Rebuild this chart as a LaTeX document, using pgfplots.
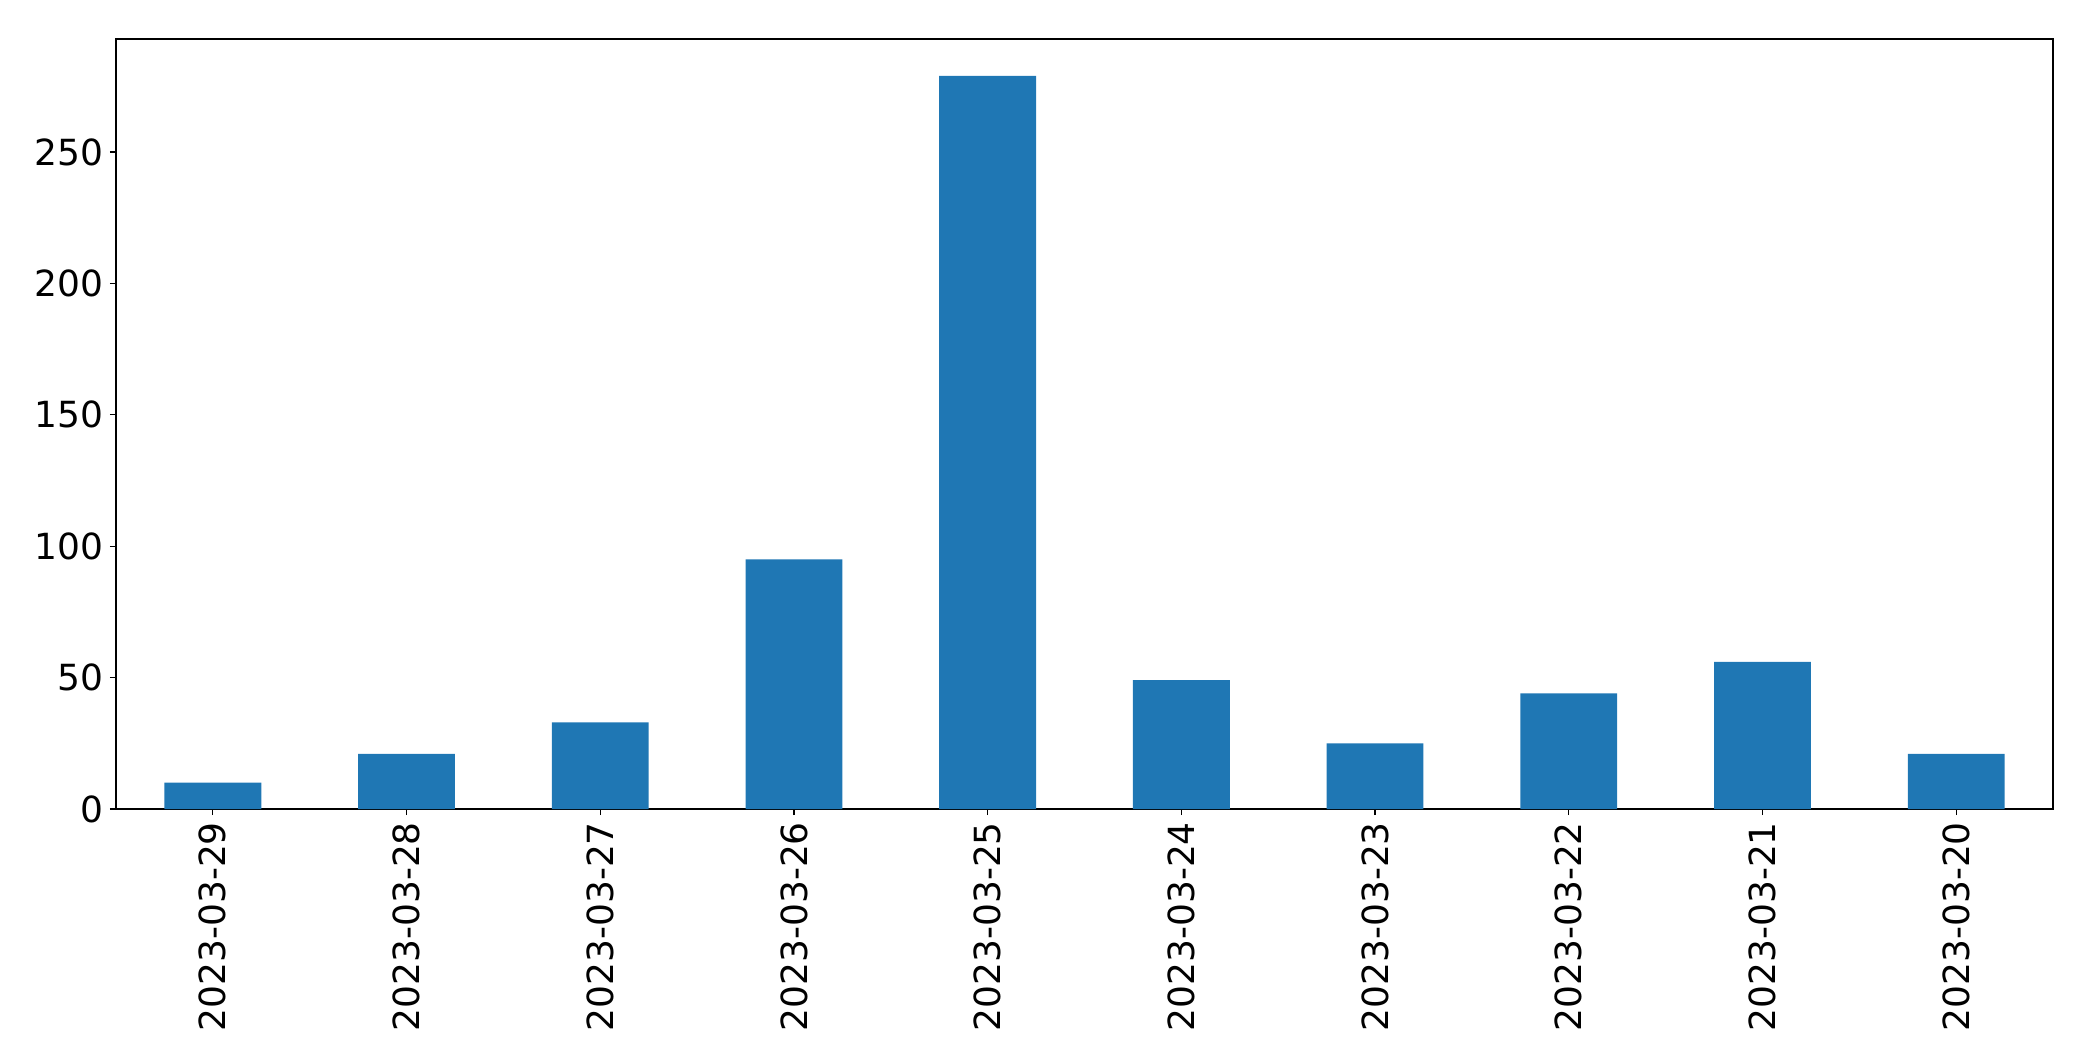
\documentclass[border=0pt]{standalone}
\usepackage{fontspec}
\setmainfont{DejaVu Sans}
\usepackage{pgfplots}
\pgfplotsset{compat=1.18}
\definecolor{mplblue}{HTML}{1F77B4}
\begin{document}
\begin{tikzpicture}
\begin{axis}[
  scale only axis,
  width=968.5pt, height=385pt,
  xmin=-0.5, xmax=9.5,
  ymin=0, ymax=293,
  ytick={0,50,100,150,200,250},
  xtick={0,1,2,3,4,5,6,7,8,9},
  xticklabels={2023-03-29,2023-03-28,2023-03-27,2023-03-26,2023-03-25,2023-03-24,2023-03-23,2023-03-22,2023-03-21,2023-03-20},
  xticklabel style={rotate=90, anchor=east, font=\fontsize{18}{21}\selectfont},
  yticklabel style={font=\fontsize{18}{21}\selectfont},
  /pgf/number format/assume math mode=true,
  tick pos=left,
  tick align=outside,
  major tick length=3pt,
  axis line style={line width=0.6pt},
  every tick/.style={line width=0.6pt, black},
  ybar, bar shift=0pt, bar width=0.5,
]
\addplot[fill=mplblue, draw=none] coordinates {
 (0,10) (1,21) (2,33) (3,95) (4,279) (5,49) (6,25) (7,44) (8,56) (9,21)
};
\end{axis}
\path[use as bounding box] (current axis.south west) ++(-58pt,-126pt) rectangle ++(1046.5pt,530.5pt);
\end{tikzpicture}
\end{document}
